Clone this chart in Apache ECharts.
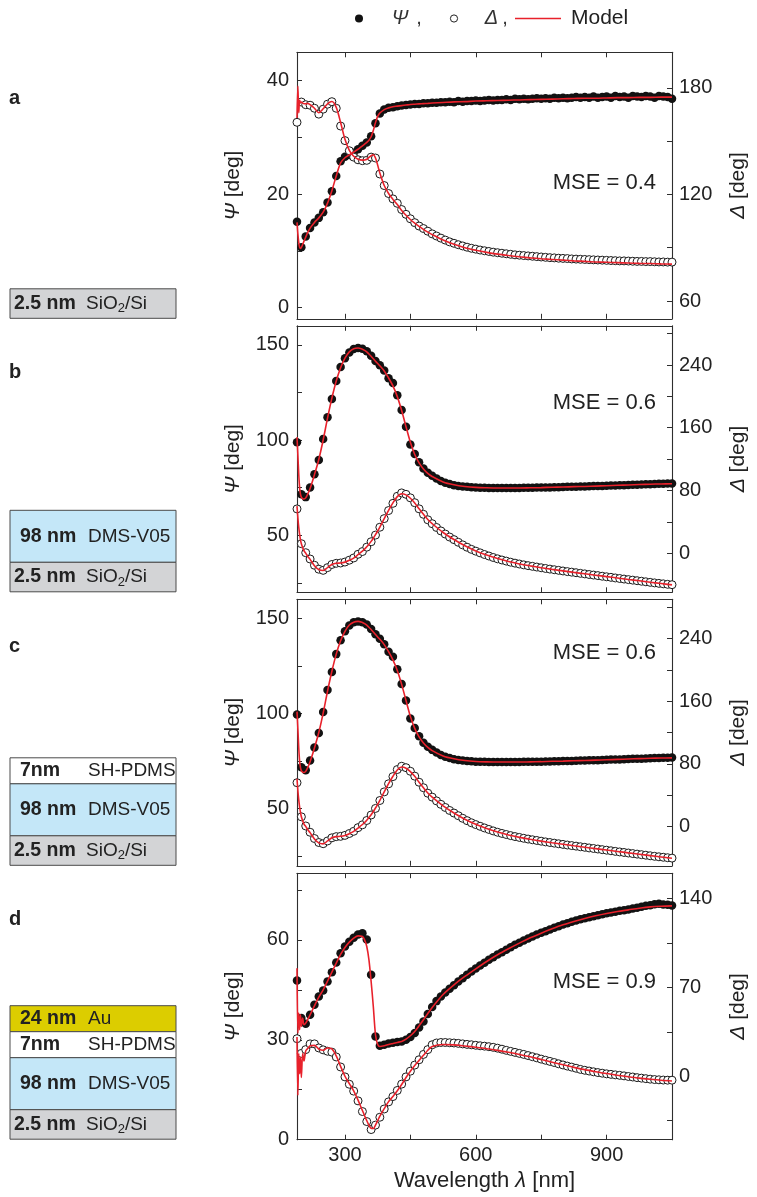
<!DOCTYPE html>
<html><head><meta charset="utf-8">
<script src="https://cdn.jsdelivr.net/npm/echarts@6/dist/echarts.min.js"></script>
<style>html,body{margin:0;padding:0;background:#fff}#c{width:757px;height:1197px}</style>
</head><body><div id="c"></div>
<script>
// ---------------- DATA ----------------
const wl = [190,200,210,220,230,240,250,260,270,280,290,300,310,320,330,340,350,360,370,380,390,400,410,420,430,440,450,460,470,480,490,500,510,520,530,540,550,560,570,580,590,600,610,620,630,640,650,660,670,680,690,700,710,720,730,740,750,760,770,780,790,800,810,820,830,840,850,860,870,880,890,900,910,920,930,940,950,960,970,980,990,1000,1010,1020,1030,1040,1050];
const wlModel = [190,192,194,196,198,200,203,206,210,215,220,230,240,250,260,270,280,290,300,310,320,330,340,345,350,355,360,365,370,375,380,390,400,410,420,430,440,450,460,470,480,490,500,525,550,575,600,625,650,675,700,725,750,775,800,825,850,875,900,925,950,975,1000,1025,1050];

const xTicks = [300,450,600,750,900];
const xLabels = [300,600,900];

// panel a
const psiA = [15.1,10.6,12.5,14.0,15.0,15.8,16.8,18.5,20.5,23.2,
25.8,26.6,26.9,27.3,27.9,28.5,29.1,30.2,32.5,34.2,
34.9,35.2,35.3,35.5,35.6,35.7,35.8,35.9,35.9,36.0,
36.0,36.1,36.1,36.2,36.2,36.3,36.2,36.4,36.3,36.4,
36.4,36.5,36.4,36.5,36.6,36.5,36.6,36.6,36.7,36.6,
36.8,36.7,36.8,36.7,36.8,36.9,36.8,36.9,36.8,37.0,
36.9,37.0,36.9,37.0,37.1,37.0,37.1,37.0,37.2,37.0,
37.1,37.2,37.0,37.3,37.1,37.2,37.0,37.3,37.2,37.1,
37.3,37.2,37.0,37.3,37.2,37.1,36.8];
const deltaA = [160.6,172.0,170.5,170.2,168.5,165.2,168.0,170.8,172.2,168.5,
158.5,150.3,144.6,141.0,139.5,139.0,139.2,141.0,140.5,131.5,
125.0,120.5,117.5,115.0,111.5,108.8,106.3,104.1,102.2,100.8,
99.3,97.8,96.6,95.4,94.3,93.3,92.5,91.7,91.0,90.3,
89.7,89.2,88.7,88.3,87.9,87.5,87.2,86.9,86.6,86.3,
86.0,85.8,85.6,85.4,85.2,85.0,84.8,84.6,84.4,84.3,
84.1,84.0,83.9,83.7,83.6,83.5,83.4,83.3,83.2,83.1,
83.0,82.9,82.8,82.7,82.6,82.6,82.5,82.4,82.3,82.3,
82.2,82.2,82.1,82.0,82.0,81.9,81.9];
const psiModelA = [15.0,13.0,11.5,10.6,10.4,10.6,11.1,11.7,12.4,13.3,14.0,
15.0,15.8,16.8,18.4,20.6,23.2,25.5,26.4,26.9,27.4,27.9,28.5,
28.8,29.1,29.5,30.1,31.2,32.6,33.7,34.3,
34.9,35.2,35.4,35.5,35.6,35.7,35.8,35.85,35.9,35.95,36.0,36.05,
36.15,36.25,36.3,36.4,36.45,36.5,36.55,36.6,36.65,36.7,36.75,36.8,36.85,36.9,36.9,36.95,37.0,37.0,37.05,37.05,37.1,37.1];
const deltaModelA = [163,181,166,173,171.5,172,171.5,171,171,171.2,170.5,
168.5,166.0,168.2,171.0,172.3,169.0,160.5,151.0,144.8,141.5,139.8,139.3,
139.4,139.8,140.8,141.8,142.3,140.5,136.5,132.0,
125.0,120.5,117.2,114.3,111.0,108.3,105.9,103.8,102.0,100.3,98.8,97.4,
94.3,91.9,90.0,88.6,87.4,86.4,85.6,84.9,84.3,83.8,83.4,83.0,82.6,82.3,82.0,81.8,81.6,81.4,81.2,81.1,80.9,80.8];

// panel b
const psiB = [98.8,71.5,70.0,75.0,82.0,89.5,100.5,112.0,121.5,131.0,
138.3,143.0,146.0,147.8,148.3,147.9,146.6,144.3,141.5,139.3,
136.5,132.5,130.0,123.5,115.8,107.0,97.6,92.6,88.3,85.0,
82.8,81.2,79.8,78.5,77.6,76.9,76.3,75.9,75.6,75.4,
75.2,75.0,74.9,74.9,74.8,74.8,74.8,74.8,74.8,74.8,
74.8,74.8,74.9,74.9,74.9,75.0,75.0,75.1,75.1,75.2,
75.2,75.3,75.4,75.4,75.5,75.6,75.6,75.7,75.8,75.8,
75.9,76.0,76.1,76.1,76.2,76.3,76.4,76.5,76.5,76.6,
76.7,76.8,76.9,77.0,77.0,77.1,77.2];
const deltaB = [56.4,12.0,0.5,-7.5,-15.5,-20.5,-22.0,-18.5,-14.5,-13.0,
-12.6,-11.4,-9.0,-6.2,-1.5,2.0,7.6,14.5,23.0,33.0,
44.0,54.3,63.5,72.5,76.8,75.0,70.5,64.3,56.5,49.5,
42.5,37.5,32.7,28.3,24.3,20.5,17.2,13.8,10.5,7.5,
4.8,2.5,0.3,-1.8,-3.7,-5.6,-7.3,-8.8,-10.2,-11.6,
-12.8,-13.9,-15.0,-16.0,-16.9,-17.8,-18.7,-19.6,-20.4,-21.2,
-22.0,-22.8,-23.6,-24.3,-25.0,-25.8,-26.5,-27.3,-28.0,-28.7,
-29.5,-30.2,-30.9,-31.7,-32.4,-33.1,-33.8,-34.5,-35.2,-35.9,
-36.6,-37.3,-38.0,-38.6,-39.2,-39.8,-40.3];
const psiModelB = [101.5,92,82,75,71.5,70.0,69.2,69.0,69.6,71.8,74.5,
81.8,89.8,100.0,111.5,122.0,131.0,138.0,143.0,146.3,147.9,148.3,147.7,
147.1,146.3,145.2,144.0,142.7,141.4,140.2,139.0,
136.3,132.6,128.4,122.8,115.5,107.0,98.8,92.4,88.0,84.8,82.5,80.8,
78.0,76.5,75.6,75.1,74.9,74.8,74.8,74.8,74.9,75.0,75.2,75.3,75.5,75.6,75.8,76.0,76.2,76.4,76.6,76.8,76.9,77.0];
const deltaModelB = [60,45,33,24,17,12,7,3,0,-4.5,-8,
-16,-21,-22.2,-18.5,-14.5,-13.0,-12.6,-11.5,-9.2,-6.3,-2.0,2.5,
5.0,8.0,11.3,15.0,19.0,23.5,28.2,33.2,
44.0,54.5,64.0,72.0,75.8,74.3,70.0,64.0,56.5,49.5,42.8,37.6,
26.3,17.3,9.3,2.8,-2.5,-7.0,-10.8,-13.8,-16.3,-18.6,-20.7,-22.7,-24.6,-26.4,-28.2,-30.0,-31.8,-33.6,-35.3,-37.1,-38.8,-40.5];

// panel c
const psiC = [99.5,71.8,70.2,75.3,82.2,89.8,100.8,112.3,121.8,131.2,
138.5,143.2,146.2,147.9,148.4,148.0,146.7,144.4,141.6,139.3,
136.4,132.4,129.8,123.3,115.5,106.8,97.4,92.4,88.0,84.7,
82.5,80.9,79.5,78.2,77.3,76.6,76.0,75.6,75.3,75.1,
74.9,74.7,74.6,74.6,74.5,74.5,74.5,74.5,74.5,74.5,
74.5,74.5,74.6,74.6,74.6,74.7,74.7,74.8,74.8,74.9,
74.9,75.0,75.1,75.1,75.2,75.3,75.3,75.4,75.5,75.5,
75.6,75.7,75.8,75.8,75.9,76.0,76.1,76.2,76.2,76.3,
76.4,76.5,76.6,76.6,76.7,76.8,76.9];
const deltaC = [56.0,12.5,0.8,-7.2,-15.2,-20.3,-21.8,-18.3,-14.3,-12.8,
-12.4,-11.2,-8.8,-6.0,-1.3,2.3,7.8,14.8,23.2,33.3,
44.3,54.6,63.8,72.8,77.0,75.2,70.6,64.4,56.6,49.6,
42.6,37.6,32.8,28.4,24.4,20.6,17.3,13.9,10.6,7.6,
4.9,2.6,0.4,-1.7,-3.6,-5.5,-7.2,-8.7,-10.1,-11.5,
-12.7,-13.8,-14.9,-15.9,-16.8,-17.7,-18.6,-19.5,-20.3,-21.1,
-21.9,-22.7,-23.5,-24.2,-24.9,-25.7,-26.4,-27.2,-27.9,-28.6,
-29.4,-30.1,-30.8,-31.6,-32.3,-33.0,-33.7,-34.4,-35.1,-35.8,
-36.5,-37.2,-37.9,-38.5,-39.1,-39.7,-40.2];
const psiModelC = [101.0,92,82,75,71.5,70.0,69.2,69.0,69.6,71.8,74.6,
81.9,90.0,100.2,111.7,122.2,131.2,138.2,143.2,146.5,148.0,148.4,147.8,
147.2,146.4,145.3,144.1,142.8,141.5,140.2,139.0,
136.2,132.5,128.2,122.6,115.3,106.8,98.5,92.2,87.7,84.5,82.2,80.5,
77.7,76.2,75.3,74.8,74.6,74.5,74.5,74.5,74.6,74.7,74.9,75.0,75.2,75.3,75.5,75.7,75.9,76.1,76.3,76.5,76.6,76.7];
const deltaModelC = [61,46,34,25,18,12.5,7.5,3.3,0.3,-4.2,-7.7,
-15.7,-20.7,-22.0,-18.3,-14.3,-12.8,-12.4,-11.3,-9.0,-6.1,-1.8,2.7,
5.2,8.2,11.5,15.2,19.2,23.7,28.4,33.4,
44.2,54.7,64.2,72.3,76.0,74.5,70.1,64.1,56.6,49.6,42.9,37.7,
26.4,17.4,9.4,2.9,-2.4,-6.9,-10.7,-13.7,-16.2,-18.5,-20.6,-22.6,-24.5,-26.3,-28.1,-29.9,-31.7,-33.5,-35.2,-37.0,-38.7,-40.4];

// panel d
const psiD = [47.8,36.5,34.8,37.5,40.5,43.0,44.8,47.5,50.3,53.2,
56.0,58.0,59.4,60.6,61.6,62.0,60.1,49.5,31.0,28.2,
28.5,28.9,29.1,29.3,29.5,30.0,30.8,32.0,33.7,35.5,
37.7,39.8,41.6,43.0,44.2,45.3,46.4,47.5,48.5,49.5,
50.5,51.4,52.3,53.1,54.0,54.8,55.6,56.3,57.0,57.8,
58.5,59.1,59.8,60.4,61.0,61.6,62.1,62.6,63.1,63.6,
64.1,64.6,65.0,65.4,65.8,66.2,66.5,66.8,67.1,67.4,
67.7,68.0,68.2,68.4,68.7,68.9,69.1,69.4,69.6,69.9,
70.2,70.4,70.7,70.8,70.6,70.5,70.3];
const deltaD = [29.6,18.0,21.0,25.5,25.5,22.3,20.8,19.7,19.0,15.2,
7.3,-0.5,-6.3,-11.7,-19.4,-27.8,-35.7,-42.0,-38.5,-32.3,
-25.8,-20.2,-16.0,-11.2,-6.2,-0.5,4.0,8.8,13.0,17.2,
21.0,24.8,26.2,26.6,26.6,26.4,26.2,25.9,25.5,25.1,
24.8,24.4,24.0,23.7,23.3,22.8,22.1,21.3,20.4,19.6,
18.8,18.0,17.2,16.3,15.4,14.5,13.5,12.6,11.7,10.8,
9.8,8.9,8.0,7.2,6.3,5.4,4.7,4.1,3.5,2.9,
2.4,1.9,1.5,1.1,0.7,0.3,-0.2,-0.6,-1.1,-1.5,
-1.9,-2.3,-2.6,-2.8,-3.0,-3.1,-3.1];
const psiModelD = [51.5,32,38,33,37.5,34,36.5,34.5,35.0,36.2,37.5,
40.2,42.8,45.0,47.6,50.3,53.0,55.6,57.7,59.3,60.5,61.2,61.0,
60.0,58.0,54.0,47.5,40.0,31.5,28.6,28.0,
28.2,28.6,28.9,29.2,29.5,30.2,31.2,32.5,34.2,36.0,37.9,39.7,
43.6,46.5,49.0,51.3,53.5,55.5,57.3,59.0,60.6,62.0,63.3,64.5,65.5,66.4,67.2,67.9,68.5,69.0,69.5,69.9,70.1,70.2];
const deltaModelD = [31,-15,18,2,15,-1,18,12,20,22,24,
24.3,21.5,20.5,22.3,21.5,16.0,7.8,0.0,-5.8,-11.5,-18.8,-27.0,
-31.0,-35.0,-38.5,-41.0,-41.2,-38.5,-35.0,-31.5,
-25.5,-20.0,-16.0,-11.5,-6.5,-1.0,4.0,8.5,12.5,16.5,20.5,23.5,
25.0,24.7,23.8,22.8,21.7,20.4,18.9,17.2,15.3,13.2,11.1,9.0,7.0,5.2,3.6,2.1,0.8,-0.4,-1.5,-2.4,-3.2,-3.8];

// axis ranges / ticks
const psiRange = [[-2,45],[20,160],[20,160],[0,80]];
const deltaRange = [[50,200],[-50,290],[-50,290],[-50,160]];
const psiTicks = [[0,10,20,30,40],[25,50,75,100,125,150],[25,50,75,100,125,150],[0,15,30,45,60,75]];
const psiLabels = [[0,20,40],[50,100,150],[50,100,150],[0,30,60]];
const deltaTicks = [[60,90,120,150,180],[-40,0,40,80,120,160,200,240,280],[-40,0,40,80,120,160,200,240,280],[-35,0,35,70,105,140]];
const deltaLabels = [[60,120,180],[0,80,160,240],[0,80,160,240],[0,70,140]];
const mseText = ['MSE = 0.4','MSE = 0.6','MSE = 0.6','MSE = 0.9'];
const panelLetters = ['a','b','c','d'];
const layerStacks = [
  [['2.5 nm','SiO2/Si','si']],
  [['98 nm','DMS-V05','dms'],['2.5 nm','SiO2/Si','si']],
  [['7nm','SH-PDMS','sh'],['98 nm','DMS-V05','dms'],['2.5 nm','SiO2/Si','si']],
  [['24 nm','Au','au'],['7nm','SH-PDMS','sh'],['98 nm','DMS-V05','dms'],['2.5 nm','SiO2/Si','si']]
];

// ---------------- LAYOUT / STYLE ----------------
const FONT = 'Liberation Sans, Arial, Helvetica, sans-serif';
const TXT = '#222';
const FRAME = '#2e2e2e';
const RED = '#e8212b';
const tops = [52.3, 325.8, 599.3, 873.2];
const PH = 266.5, PL = 297, PW = 380;
const mseY = [183, 403, 652.5, 982];
const letterY = [98, 372, 646, 919];
const layerFill = {si:'#d3d4d6', dms:'#c4e7f8', sh:'#ffffff', au:'#dccd00'};
const layerH = {si:29.5, dms:52, sh:26, au:26};

const grids = [], xAxis = [], yAxis = [], series = [], graphic = [];
const psiData = [psiA, psiB, psiC, psiD];
const deltaData = [deltaA, deltaB, deltaC, deltaD];
const psiModel = [psiModelA, psiModelB, psiModelC, psiModelD];
const deltaModel = [deltaModelA, deltaModelB, deltaModelC, deltaModelD];

const lineSt = {color: FRAME, width: 1.1};
const tickSt = {color: FRAME, width: 1};
const labelSt = {fontSize: 20, fontFamily: FONT, color: TXT};

for (let i = 0; i < 4; i++) {
  grids.push({left: PL, top: tops[i], width: PW, height: PH});
  xAxis.push({
    gridIndex: i, type: 'value', min: 190, max: 1050, position: 'bottom',
    axisLine: {show: true, onZero: false, lineStyle: lineSt},
    axisTick: {show: true, inside: true, length: 5, customValues: xTicks, lineStyle: tickSt},
    axisLabel: Object.assign({show: i === 3, margin: 6, customValues: xLabels}, labelSt),
    splitLine: {show: false},
    name: i === 3 ? 'Wavelength {i|λ} [nm]' : '',
    nameLocation: 'middle', nameGap: 30,
    nameTextStyle: {fontSize: 22, fontFamily: FONT, color: TXT,
      rich: {i: {fontSize: 22, fontFamily: FONT, fontStyle: 'italic', color: TXT}}}
  });
  xAxis.push({
    gridIndex: i, type: 'value', min: 190, max: 1050, position: 'top',
    axisLine: {show: true, onZero: false, lineStyle: lineSt},
    axisTick: {show: true, inside: true, length: 5, customValues: xTicks, lineStyle: tickSt},
    axisLabel: {show: false}, splitLine: {show: false}
  });
  yAxis.push({
    gridIndex: i, type: 'value', min: psiRange[i][0], max: psiRange[i][1], position: 'left',
    axisLine: {show: true, onZero: false, lineStyle: lineSt},
    axisTick: {show: true, inside: true, length: 5, customValues: psiTicks[i], lineStyle: tickSt},
    axisLabel: Object.assign({margin: 8, customValues: psiLabels[i]}, labelSt),
    splitLine: {show: false},
    name: '{i|Ψ} [deg]', nameLocation: 'middle', nameGap: 53, nameRotate: 90,
    nameTextStyle: {fontSize: 21, fontFamily: FONT, color: TXT,
      rich: {i: {fontSize: 21, fontFamily: FONT, fontStyle: 'italic', color: TXT}}}
  });
  yAxis.push({
    gridIndex: i, type: 'value', min: deltaRange[i][0], max: deltaRange[i][1], position: 'right',
    axisLine: {show: true, onZero: false, lineStyle: lineSt},
    axisTick: {show: true, inside: true, length: 5, customValues: deltaTicks[i], lineStyle: tickSt},
    axisLabel: Object.assign({margin: 7, customValues: deltaLabels[i]}, labelSt),
    splitLine: {show: false},
    name: '{i|Δ} [deg]', nameLocation: 'middle', nameGap: 56, nameRotate: 90,
    nameTextStyle: {fontSize: 21, fontFamily: FONT, color: TXT,
      rich: {i: {fontSize: 21, fontFamily: FONT, fontStyle: 'italic', color: TXT}}}
  });
  const xb = 2 * i, yl = 2 * i, yr = 2 * i + 1;
  series.push({
    name: 'Ψ', type: 'scatter', xAxisIndex: xb, yAxisIndex: yl, z: 2,
    symbol: 'circle', symbolSize: 8.5,
    itemStyle: {color: '#121212', opacity: 1},
    data: wl.map((x, k) => [x, psiData[i][k]])
  });
  series.push({
    name: 'Δ', type: 'scatter', xAxisIndex: xb, yAxisIndex: yr, z: 2,
    symbol: 'circle', symbolSize: 8,
    itemStyle: {color: '#ffffff', borderColor: '#1a1a1a', borderWidth: 1, opacity: 1},
    data: wl.map((x, k) => [x, deltaData[i][k]])
  });
  series.push({
    name: 'Model', type: 'line', xAxisIndex: xb, yAxisIndex: yl, z: 4,
    smooth: 0.3, showSymbol: false, symbol: 'none',
    lineStyle: {color: RED, width: 1.6},
    data: wlModel.map((x, k) => [x, psiModel[i][k]])
  });
  series.push({
    name: 'Model', type: 'line', xAxisIndex: xb, yAxisIndex: yr, z: 4,
    smooth: 0.3, showSymbol: false, symbol: 'none',
    lineStyle: {color: RED, width: 1.6},
    data: wlModel.map((x, k) => [x, deltaModel[i][k]])
  });

  // MSE annotation
  graphic.push({type: 'text', x: 656, y: mseY[i], style: {text: mseText[i], fontSize: 22, fontFamily: FONT, fill: TXT, textAlign: 'right', textVerticalAlign: 'middle', align: 'right', verticalAlign: 'middle'}});
  // panel letter
  graphic.push({type: 'text', x: 9, y: letterY[i], style: {text: panelLetters[i], fontSize: 20, fontWeight: 'bold', fontFamily: FONT, fill: TXT, textVerticalAlign: 'middle', verticalAlign: 'middle'}});

  // layer stack box, bottom aligned to panel bottom
  const stack = layerStacks[i];
  let yBot = tops[i] + PH - 0.5;
  let total = 0; stack.forEach(s => total += layerH[s[2]]);
  let y = yBot - total;
  stack.forEach(s => {
    const h = layerH[s[2]];
    graphic.push({type: 'rect', shape: {x: 10, y: y, width: 166, height: h}, style: {fill: layerFill[s[2]], stroke: '#4a4a4a', lineWidth: 1}});
    const cy = y + h / 2;
    graphic.push({type: 'text', x: s[2] === 'si' ? 14 : 20, y: cy, style: {text: s[0], fontSize: 19.5, fontWeight: 'bold', fontFamily: FONT, fill: TXT, textVerticalAlign: 'middle', verticalAlign: 'middle'}});
    const rtext = s[1] === 'SiO2/Si' ? '{n|SiO}{s|2}{n|/Si}' : '{n|' + s[1] + '}';
    graphic.push({type: 'text', x: s[2] === 'si' ? 86 : 88, y: cy, style: {text: rtext, fontFamily: FONT, fill: TXT, textVerticalAlign: 'middle', verticalAlign: 'middle',
      rich: {n: {fontSize: 19, fontFamily: FONT, fill: TXT, color: TXT, lineHeight: 23},
             s: {fontSize: 13, fontFamily: FONT, fill: TXT, color: TXT, verticalAlign: 'bottom'}}}});
    y += h;
  });
}

// legend (top)
graphic.push({type: 'circle', shape: {cx: 359, cy: 18.5, r: 4}, style: {fill: '#111'}});
graphic.push({type: 'text', x: 400, y: 18.5, style: {text: 'Ψ', fontSize: 20, fontStyle: 'italic', fontFamily: FONT, fill: '#333', textAlign: 'center', align: 'center', textVerticalAlign: 'middle', verticalAlign: 'middle'}});
graphic.push({type: 'text', x: 419, y: 18.5, style: {text: ',', fontSize: 20, fontFamily: FONT, fill: '#333', textAlign: 'center', align: 'center', textVerticalAlign: 'middle', verticalAlign: 'middle'}});
graphic.push({type: 'circle', shape: {cx: 454, cy: 18.5, r: 3.6}, style: {fill: '#fff', stroke: '#222', lineWidth: 1}});
graphic.push({type: 'text', x: 491.5, y: 18.5, style: {text: 'Δ', fontSize: 20, fontStyle: 'italic', fontFamily: FONT, fill: '#333', textAlign: 'center', align: 'center', textVerticalAlign: 'middle', verticalAlign: 'middle'}});
graphic.push({type: 'text', x: 505, y: 18.5, style: {text: ',', fontSize: 20, fontFamily: FONT, fill: '#333', textAlign: 'center', align: 'center', textVerticalAlign: 'middle', verticalAlign: 'middle'}});
graphic.push({type: 'line', shape: {x1: 515, y1: 18.5, x2: 561, y2: 18.5}, style: {stroke: RED, lineWidth: 1.6}});
graphic.push({type: 'text', x: 571, y: 18.5, style: {text: 'Model', fontSize: 21, fontFamily: FONT, fill: TXT, textVerticalAlign: 'middle', verticalAlign: 'middle'}});

const chart = echarts.init(document.getElementById('c'), null, {renderer: 'canvas'});
chart.setOption({
  animation: false,
  backgroundColor: '#ffffff',
  grid: grids, xAxis: xAxis, yAxis: yAxis, series: series, graphic: graphic
});
</script>
</body></html>
